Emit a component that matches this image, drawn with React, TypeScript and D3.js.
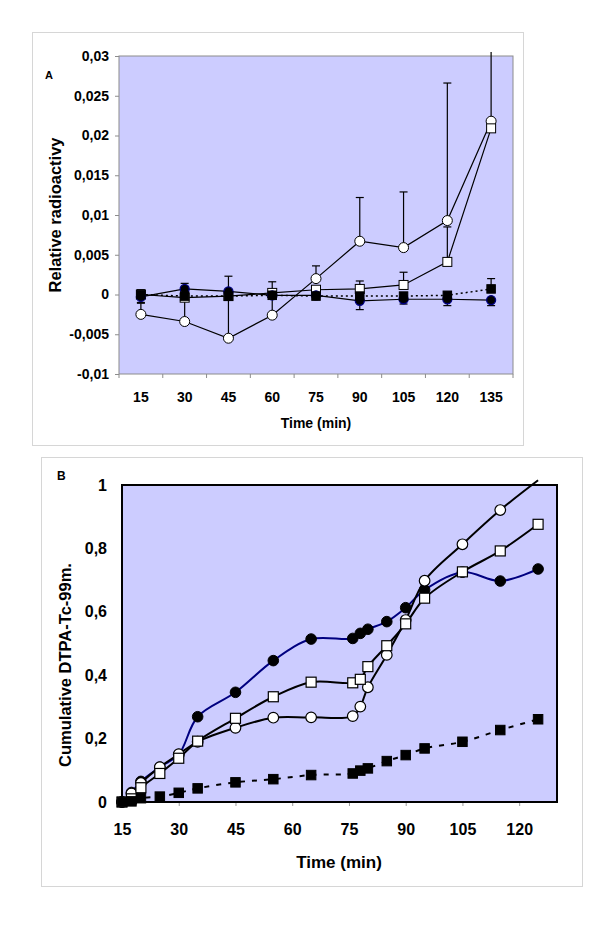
import React, { useRef, useEffect } from "react";
import * as d3 from "d3";

// ---- panel A data (relative radioactivity) ----
const timesA = [15, 30, 45, 60, 75, 90, 105, 120, 135];
const ticksA = [-0.01, -0.005, 0, 0.005, 0.01, 0.015, 0.02, 0.025, 0.03];
const openCircleA = [-0.0025, -0.0034, -0.0055, -0.0026, 0.002, 0.0067, 0.0059, 0.0093, 0.0218];
const openCircleErrA = [-0.0011, -0.0006, 0.0023, 0.0016, 0.0036, 0.0122, 0.0129, 0.0266, 0.0305];
const openSquareA = [0, -0.0004, -0.0002, 0.0002, 0.0006, 0.0007, 0.0012, 0.0041, 0.0209];
const openSquareErrA = [null, null, null, null, null, 0.0017, 0.0028, 0.0085, null];
const filledCircleA = [-0.0003, 0.0007, 0.0004, -0.0001, -0.0001, -0.0008, -0.0006, -0.0006, -0.0007];
const filledCircleErrA = [-0.001, null, null, null, null, -0.0019, -0.0012, -0.0014, -0.0014];
const filledSquareA = [0, -0.0002, -0.0002, -0.0001, -0.0002, -0.0002, -0.0002, -0.0001, 0.0007];
const filledSquareErrA = [0.0006, 0.0014, null, null, null, null, null, null, 0.002];

// ---- panel B data (cumulative DTPA-Tc-99m) ----
const timesB = [15, 17.5, 20, 25, 30, 35, 45, 55, 65, 76, 78, 80, 85, 90, 95, 105, 115, 125];
const xTicksB = [15, 30, 45, 60, 75, 90, 105, 120];
const yTicksB = [0, 0.2, 0.4, 0.6, 0.8, 1];
const filledCircleB = [0, 0.03, 0.065, 0.11, 0.15, 0.269, 0.346, 0.446, 0.514, 0.516, 0.532, 0.545, 0.569, 0.613, 0.669, 0.725, 0.697, 0.735];
const openCircleB = [0, 0.027, 0.06, 0.11, 0.151, 0.19, 0.234, 0.266, 0.267, 0.271, 0.301, 0.362, 0.464, 0.574, 0.698, 0.813, 0.921, 1.015];
const openSquareB = [0, 0.01, 0.045, 0.09, 0.138, 0.192, 0.264, 0.332, 0.378, 0.376, 0.387, 0.427, 0.493, 0.562, 0.643, 0.726, 0.792, 0.876];
const filledSquareB = [0, 0.002, 0.012, 0.017, 0.029, 0.043, 0.062, 0.072, 0.085, 0.09, 0.099, 0.106, 0.129, 0.148, 0.169, 0.19, 0.227, 0.261];

const W = 600;
const H = 935;
const FONT = "'Liberation Sans', Arial, sans-serif";
const BG = "#ccccff";
const NAVY = "#000080";

const fmt = (v: number) => String(+v.toFixed(4)).replace(".", ",");

type Pt = [number, number];

function markers(g: any, pts: Pt[], shape: string, size: number, fill: string, stroke: string, sw: number) {
  if (shape === "circle") {
    g.selectAll(null).data(pts).join("circle")
      .attr("cx", (d: Pt) => d[0]).attr("cy", (d: Pt) => d[1]).attr("r", size)
      .attr("fill", fill).attr("stroke", stroke).attr("stroke-width", sw);
  } else {
    g.selectAll(null).data(pts).join("rect")
      .attr("x", (d: Pt) => d[0] - size / 2).attr("y", (d: Pt) => d[1] - size / 2)
      .attr("width", size).attr("height", size)
      .attr("fill", fill).attr("stroke", stroke).attr("stroke-width", sw);
  }
}

function App() {
  const svgRef = useRef<SVGSVGElement>(null);

  useEffect(() => {
    const svg = d3.select(svgRef.current);
    svg.selectAll("*").remove();
    svg.attr("width", W).attr("height", H).style("font-family", FONT);
    svg.append("rect").attr("width", W).attr("height", H).attr("fill", "#fff");

    // ================= panel A =================
    svg.append("rect").attr("x", 32.5).attr("y", 32.5).attr("width", 491).attr("height", 413)
      .attr("fill", "#fff").attr("stroke", "#d6d6d6");

    const ax = d3.scaleBand<number>().domain(timesA).range([119, 513]);
    const ay = d3.scaleLinear().domain([-0.01, 0.03]).range([374, 56]);
    const cx = (t: number) => (ax(t) as number) + ax.bandwidth() / 2;

    svg.append("rect").attr("x", 119).attr("y", 56).attr("width", 394).attr("height", 318)
      .attr("fill", BG).attr("stroke", "#8c8c8c");

    // y axis
    svg.append("g").attr("transform", "translate(119,0)")
      .call(d3.axisLeft(ay).tickValues(ticksA).tickSize(4).tickPadding(6).tickFormat((d: any) => fmt(d)))
      .call(g => g.select(".domain").remove())
      .call(g => g.selectAll("line").attr("stroke", "#8c8c8c"))
      .call(g => g.selectAll("text").attr("font-size", 14).attr("font-weight", "bold").attr("fill", "#000").style("font-family", FONT));

    // x axis: labels at category centres, tick marks between categories
    svg.append("g").attr("transform", "translate(0,374)")
      .call(d3.axisBottom(ax).tickSize(0).tickPadding(18))
      .call(g => g.select(".domain").remove())
      .call(g => g.selectAll("text").attr("font-size", 14).attr("font-weight", "bold").attr("fill", "#000").style("font-family", FONT));
    const edges = [...timesA.map(t => ax(t) as number), ax.range()[1]];
    svg.append("g").selectAll("line").data(edges).join("line")
      .attr("x1", d => d).attr("x2", d => d).attr("y1", 374).attr("y2", 378)
      .attr("stroke", "#8c8c8c");

    svg.append("text").attr("x", 316).attr("y", 428).attr("text-anchor", "middle")
      .attr("font-size", 14).attr("font-weight", "bold").text("Time (min)");
    svg.append("text").attr("transform", "translate(55,215) rotate(-90)").attr("text-anchor", "middle")
      .attr("dominant-baseline", "central").attr("font-size", 16.5).attr("font-weight", "bold")
      .text("Relative radioactivy");
    svg.append("text").attr("x", 45).attr("y", 79).attr("font-size", 11).attr("font-weight", "bold").text("A");

    const lineA = d3.line<Pt>().x(d => d[0]).y(d => d[1]);
    const ptsA = (vals: number[]): Pt[] => timesA.map((t, i) => [cx(t), ay(vals[i])]);
    const gA = svg.append("g");

    gA.append("path").attr("d", lineA(ptsA(openCircleA))).attr("fill", "none").attr("stroke", "#000").attr("stroke-width", 1.2);
    gA.append("path").attr("d", lineA(ptsA(openSquareA))).attr("fill", "none").attr("stroke", "#000").attr("stroke-width", 1.2);
    gA.append("path").attr("d", lineA(ptsA(filledCircleA))).attr("fill", "none").attr("stroke", "#000").attr("stroke-width", 1.2);
    gA.append("path").attr("d", lineA(ptsA(filledSquareA))).attr("fill", "none").attr("stroke", "#000")
      .attr("stroke-width", 1.5).attr("stroke-dasharray", "2,3");

    // error bars
    const errs: [number[], (number | null)[]][] = [
      [openCircleA, openCircleErrA],
      [openSquareA, openSquareErrA],
      [filledCircleA, filledCircleErrA],
      [filledSquareA, filledSquareErrA],
    ];
    const maxA = ay.domain()[1];
    errs.forEach(([vals, ends]) => {
      timesA.forEach((t, i) => {
        const e = ends[i];
        if (e === null) return;
        const x = cx(t);
        gA.append("line").attr("x1", x).attr("x2", x).attr("y1", ay(vals[i])).attr("y2", ay(e))
          .attr("stroke", "#000").attr("stroke-width", 1.2);
        if (e <= maxA) {
          gA.append("line").attr("x1", x - 4).attr("x2", x + 4).attr("y1", ay(e)).attr("y2", ay(e))
            .attr("stroke", "#000").attr("stroke-width", 1.2);
        }
      });
    });

    markers(gA, ptsA(openCircleA), "circle", 5, "#fff", "#000", 1);
    markers(gA, ptsA(openSquareA), "square", 9, "#fff", "#000", 1);
    markers(gA, ptsA(filledCircleA), "circle", 4.5, "#000", NAVY, 1.3);
    markers(gA, ptsA(filledSquareA), "square", 8.5, "#000", "#000", 1);

    // ================= panel B =================
    svg.append("rect").attr("x", 41.5).attr("y", 457.5).attr("width", 541).attr("height", 429)
      .attr("fill", "#fff").attr("stroke", "#d6d6d6");

    const bx = d3.scaleLinear().domain([15, 130]).range([122, 557]);
    const by = d3.scaleLinear().domain([0, 1]).range([802, 485]);

    svg.append("rect").attr("x", 122).attr("y", 485).attr("width", 435).attr("height", 317).attr("fill", BG);

    svg.append("g").attr("transform", "translate(0,802)")
      .call(d3.axisBottom(bx).tickValues(xTicksB).tickSize(4).tickPadding(18).tickFormat((d: any) => String(d)))
      .call(g => g.select(".domain").remove())
      .call(g => g.selectAll("line").attr("stroke", "#9a9a9a"))
      .call(g => g.selectAll("text").attr("font-size", 16).attr("font-weight", "bold").attr("fill", "#000").style("font-family", FONT));
    svg.append("g").attr("transform", "translate(122,0)")
      .call(d3.axisLeft(by).tickValues(yTicksB).tickSize(0).tickPadding(15).tickFormat((d: any) => fmt(d)))
      .call(g => g.select(".domain").remove())
      .call(g => g.selectAll("text").attr("font-size", 16).attr("font-weight", "bold").attr("fill", "#000").style("font-family", FONT));

    svg.append("text").attr("x", 339).attr("y", 868).attr("text-anchor", "middle")
      .attr("font-size", 17).attr("font-weight", "bold").text("Time (min)");
    svg.append("text").attr("transform", "translate(65,665) rotate(-90)").attr("text-anchor", "middle")
      .attr("dominant-baseline", "central").attr("font-size", 16.5).attr("font-weight", "bold")
      .text("Cumulative DTPA-Tc-99m.");
    svg.append("text").attr("x", 57).attr("y", 480).attr("font-size", 12).attr("font-weight", "bold").text("B");

    const lineB = d3.line<Pt>().x(d => d[0]).y(d => d[1]).curve(d3.curveCatmullRom.alpha(0.5));
    const ptsB = (vals: number[]): Pt[] => timesB.map((t, i) => [bx(t), by(vals[i])]);
    const visB = (vals: number[]): Pt[] => timesB.map((t, i) => [t, vals[i]] as Pt)
      .filter(d => d[1] <= by.domain()[1]).map(d => [bx(d[0]), by(d[1])] as Pt);
    const gB = svg.append("g");

    gB.append("path").attr("d", lineB(ptsB(filledCircleB))).attr("fill", "none").attr("stroke", NAVY).attr("stroke-width", 2);
    gB.append("path").attr("d", lineB(ptsB(openCircleB))).attr("fill", "none").attr("stroke", "#000").attr("stroke-width", 2);
    gB.append("path").attr("d", lineB(ptsB(openSquareB))).attr("fill", "none").attr("stroke", "#000").attr("stroke-width", 2);
    gB.append("path").attr("d", lineB(ptsB(filledSquareB))).attr("fill", "none").attr("stroke", "#000")
      .attr("stroke-width", 2).attr("stroke-dasharray", "5,7");

    markers(gB, visB(filledCircleB), "circle", 5.3, "#000", "#000", 1);
    markers(gB, visB(openCircleB), "circle", 5.3, "#fff", "#000", 1.2);
    markers(gB, visB(openSquareB), "square", 10, "#fff", "#000", 1.2);
    markers(gB, visB(filledSquareB), "square", 9.5, "#000", "#000", 1);

    // plot frame on top
    svg.append("rect").attr("x", 122).attr("y", 485).attr("width", 435).attr("height", 317)
      .attr("fill", "none").attr("stroke", "#000").attr("stroke-width", 2);
  }, []);

  return (
    <div>
      <svg ref={svgRef} style={{ position: "absolute", left: 0, top: 0, display: "block" }}></svg>
    </div>
  );
}

export default App;
